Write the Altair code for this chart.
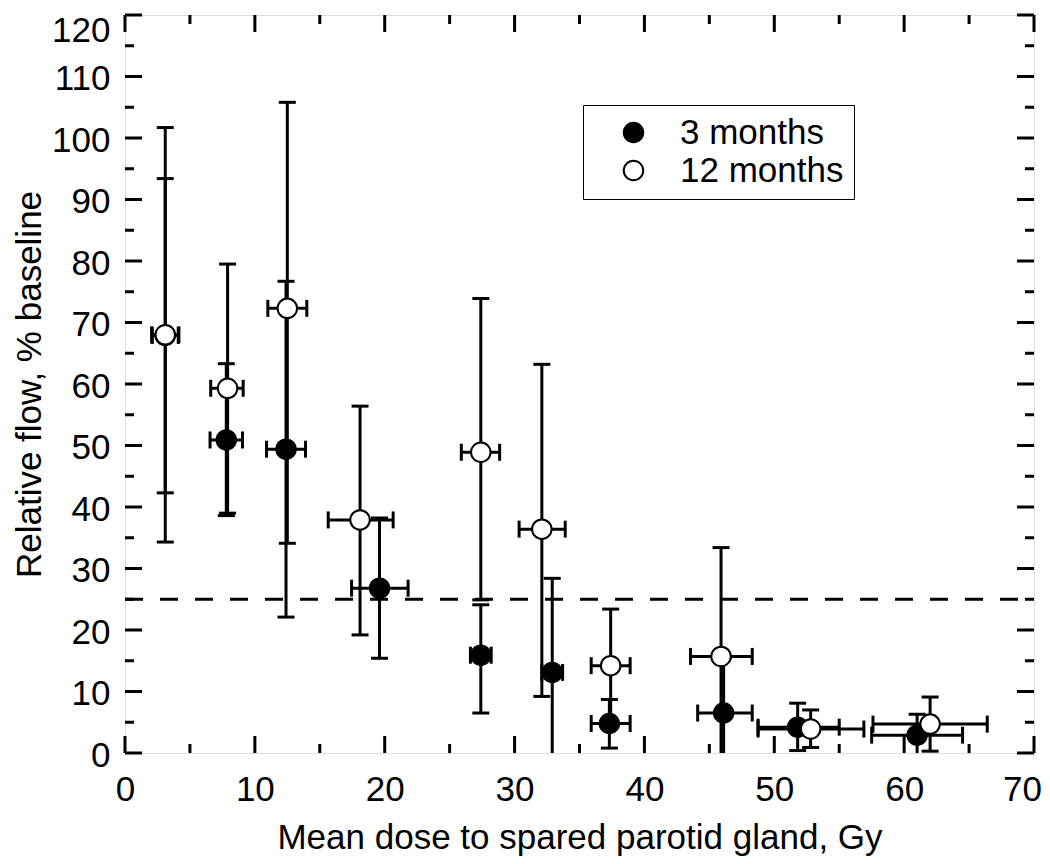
import altair as alt
import pandas as pd

# ---- data ----
series_names = ["3 months", "12 months"]

dose_3m = [3.1, 7.8, 12.4, 19.6, 27.4, 32.9, 37.3, 46.1, 51.8, 61.0]
flow_3m = [67.9, 50.9, 49.4, 26.8, 15.9, 13.1, 4.8, 6.5, 4.2, 2.9]
flow_lo_3m = [42.3, 38.6, 22.1, 15.4, 6.5, -2.3, 0.8, -2.5, 0.4, -0.5]
flow_hi_3m = [93.4, 63.3, 76.7, 38.2, 24.1, 28.4, 8.7, 15.5, 8.1, 6.3]
dose_lo_3m = [2.1, 6.55, 10.9, 17.45, 26.6, 32.1, 35.9, 44.1, 48.75, 57.5]
dose_hi_3m = [4.1, 9.05, 13.9, 21.8, 28.2, 33.7, 38.9, 48.3, 55.0, 64.5]

dose_12m = [3.1, 7.9, 12.5, 18.1, 27.4, 32.1, 37.4, 45.9, 52.8, 62.0]
flow_12m = [68.0, 59.3, 72.3, 37.9, 48.9, 36.4, 14.2, 15.7, 3.9, 4.7]
flow_lo_12m = [34.3, 39.0, 34.1, 19.2, 24.9, 9.2, 5.0, -2.0, 0.9, 0.3]
flow_hi_12m = [101.7, 79.5, 105.8, 56.4, 73.9, 63.2, 23.4, 33.4, 7.0, 9.1]
dose_lo_12m = [2.05, 6.6, 11.0, 15.65, 25.9, 30.35, 35.9, 43.55, 48.75, 57.6]
dose_hi_12m = [4.15, 9.1, 14.0, 20.65, 28.85, 33.9, 38.9, 48.3, 56.9, 66.4]

threshold = [25]

x_major = [0, 10, 20, 30, 40, 50, 60, 70]
x_minor = [5, 15, 25, 35, 45, 55, 65]
y_major = [0, 10, 20, 30, 40, 50, 60, 70, 80, 90, 100, 110, 120]
y_minor = [5, 15, 25, 35, 45, 55, 65, 75, 85, 95, 105, 115]

# ---- tables ----
rows = []
for name, xs, ys, ylo, yhi, xlo, xhi in [
    ("3 months", dose_3m, flow_3m, flow_lo_3m, flow_hi_3m, dose_lo_3m, dose_hi_3m),
    ("12 months", dose_12m, flow_12m, flow_lo_12m, flow_hi_12m, dose_lo_12m, dose_hi_12m),
]:
    for i in range(len(xs)):
        rows.append(dict(series=name, x=xs[i], y=ys[i], ylo=ylo[i], yhi=yhi[i],
                         xlo=xlo[i], xhi=xhi[i]))
df = pd.DataFrame(rows)

thr_df = pd.DataFrame({"y": threshold, "x0": [x_major[0]], "x1": [x_major[-1]]})
xmaj_df = pd.DataFrame({"v": x_major})
xmin_df = pd.DataFrame({"v": x_minor})
ymaj_df = pd.DataFrame({"v": y_major})
ymin_df = pd.DataFrame({"v": y_minor})

W, H = 909, 738
PAD_L, PAD_T = 117, 7
FONT = "Liberation Sans"
FS = 35
MAJ, MIN = 17, 9

xscale = alt.Scale(domain=[0, 70], nice=False, zero=False)
yscale = alt.Scale(domain=[0, 120], nice=False, zero=False)

# the end labels are nudged inward so that they stay inside the page
x_label_offset = {"condition": {"test": f"datum.value == {x_major[-1]}", "value": -12}, "value": 0}
y_label_offset = {"condition": {"test": f"datum.value == {y_major[-1]}", "value": 15}, "value": 2}

xaxis = alt.Axis(values=x_major, ticks=False, domain=False, grid=False,
                 labelFontSize=FS, labelFont=FONT, labelColor="black",
                 labelPadding=19, labelFlush=False, labelOverlap=False,
                 labelOffset=x_label_offset,
                 title="Mean dose to spared parotid gland, Gy",
                 titleFontSize=FS, titleFont=FONT, titleFontWeight="normal",
                 titleColor="black", titlePadding=13)
yaxis = alt.Axis(values=y_major, ticks=False, domain=False, grid=False,
                 labelFontSize=FS, labelFont=FONT, labelColor="black",
                 labelPadding=15, labelFlush=False, labelOverlap=False,
                 labelOffset=y_label_offset,
                 title="Relative flow, % baseline",
                 titleFontSize=FS, titleFont=FONT, titleFontWeight="normal",
                 titleColor="black", titlePadding=4)


def X(field):
    return alt.X(field, scale=xscale, axis=xaxis)


def Y(field):
    return alt.Y(field, scale=yscale, axis=yaxis)


# dashed threshold line
thr = alt.Chart(thr_df).mark_rule(color="black", strokeWidth=3, strokeDash=[18, 17]).encode(
    x=X("x0:Q"), x2="x1:Q", y=Y("y:Q"),
)

base = alt.Chart(df)
vbar = base.mark_rule(color="black", strokeWidth=3, clip=True).encode(
    x=X("x:Q"), y=Y("ylo:Q"), y2="yhi:Q",
)
hbar = base.mark_rule(color="black", strokeWidth=3, clip=True).encode(
    x=X("xlo:Q"), x2="xhi:Q", y=Y("y:Q"),
)
tick_style = dict(color="black", size=17, thickness=3, clip=True, opacity=1)
cap_lo = base.mark_tick(orient="horizontal", **tick_style).encode(x=X("x:Q"), y=Y("ylo:Q"))
cap_hi = base.mark_tick(orient="horizontal", **tick_style).encode(x=X("x:Q"), y=Y("yhi:Q"))
xcap_lo = base.mark_tick(orient="vertical", **tick_style).encode(x=X("xlo:Q"), y=Y("y:Q"))
xcap_hi = base.mark_tick(orient="vertical", **tick_style).encode(x=X("xhi:Q"), y=Y("y:Q"))

points = base.mark_circle(size=380, stroke="black", strokeWidth=2, opacity=1).encode(
    x=X("x:Q"),
    y=Y("y:Q"),
    fill=alt.Fill("series:N",
                  scale=alt.Scale(domain=series_names, range=["black", "white"]),
                  legend=alt.Legend(title=None, orient="none", legendX=458, legendY=90,
                                    padding=10, symbolOffset=23, labelOffset=29,
                                    symbolType="circle", symbolSize=380,
                                    symbolStrokeColor="black", symbolStrokeWidth=2,
                                    labelFontSize=FS, labelFont=FONT, labelColor="black",
                                    labelLimit=400,
                                    strokeColor="black", fillColor="white",
                                    rowPadding=2)),
)


# inward ticks on all four sides
def yticks(d, length):
    left = alt.Chart(d).mark_rule(color="black", strokeWidth=3).encode(
        x=alt.value(0), x2=alt.value(length), y=Y("v:Q"))
    right = alt.Chart(d).mark_rule(color="black", strokeWidth=3).encode(
        x=alt.value(W), x2=alt.value(W - length), y=Y("v:Q"))
    return [left, right]


def xticks(d, length):
    bottom = alt.Chart(d).mark_rule(color="black", strokeWidth=3).encode(
        y=alt.value(H), y2=alt.value(H - length), x=X("v:Q"))
    top = alt.Chart(d).mark_rule(color="black", strokeWidth=3).encode(
        y=alt.value(0), y2=alt.value(length), x=X("v:Q"))
    return [bottom, top]


tick_layers = yticks(ymaj_df, MAJ) + yticks(ymin_df, MIN) + xticks(xmaj_df, MAJ) + xticks(xmin_df, MIN)

chart = alt.layer(
    thr, *tick_layers, vbar, hbar, cap_lo, cap_hi, xcap_lo, xcap_hi, points
).properties(
    width=W, height=H,
    autosize=alt.AutoSizeParams(type="none"),
    padding={"left": PAD_L, "top": PAD_T, "right": 1034 - PAD_L - W,
             "bottom": 848 - PAD_T - H},
    background="white",
).configure_view(
    stroke="black", strokeWidth=3
).configure(font=FONT)

chart.save("out.html", embed_options={"renderer": "svg", "actions": False})
